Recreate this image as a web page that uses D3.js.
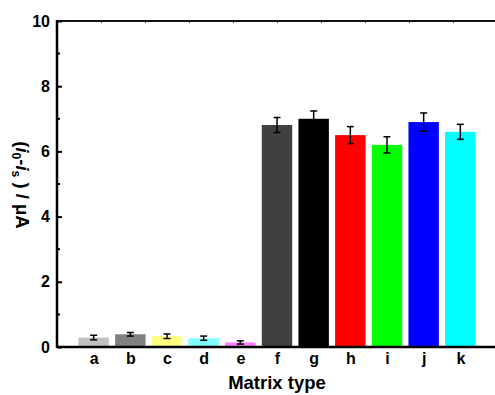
<!DOCTYPE html>
<html>
<head>
<meta charset="utf-8">
<script src="https://cdn.jsdelivr.net/npm/d3@7"></script>
<style>
  body { margin: 0; background: #fff; }
  svg { display: block; font-family: Arial, "Liberation Sans", sans-serif; }
</style>
</head>
<body>
<div id="chart"></div>
<script>
// chart data
var categories = ["a", "b", "c", "d", "e", "f", "g", "h", "i", "j", "k"];
var values = [0.29, 0.39, 0.33, 0.27, 0.14, 6.81, 7.0, 6.5, 6.2, 6.9, 6.6];
var errors = [0.07, 0.055, 0.07, 0.065, 0.05, 0.23, 0.24, 0.26, 0.25, 0.28, 0.23];
var colours = ["#c0c0c0", "#808080", "#ffff80", "#80ffff", "#ff80ff",
  "#404040", "#000000", "#ff0000", "#00ff00", "#0000ff", "#00ffff"];
var yTicks = [0, 2, 4, 6, 8, 10];

var width = 495, height = 395;
var mLeft = 57, mRight = 497, mTop = 21, mBottom = 347;

var svg = d3.select("#chart").append("svg")
  .attr("width", width)
  .attr("height", height);

var x = d3.scaleLinear().domain([0, categories.length + 1]).range([mLeft, mRight]);
var y = d3.scaleLinear().domain([0, 10]).range([mBottom, mTop]);
var xTop = d3.scaleLinear().domain([0, 10]).range([mLeft, mRight]);
var barHalf = 0.415;

// bars
svg.selectAll("rect.bar")
  .data(values)
  .enter()
  .append("rect")
  .attr("class", "bar")
  .attr("x", function (d, i) { return x(i + 1 - barHalf); })
  .attr("width", function (d, i) { return x(i + 1 + barHalf) - x(i + 1 - barHalf); })
  .attr("y", function (d) { return y(d); })
  .attr("height", function (d) { return y(0) - y(d); })
  .style("fill", function (d, i) { return colours[i]; });

// error bars
var err = svg.selectAll("g.err")
  .data(values)
  .enter()
  .append("g")
  .attr("class", "err")
  .attr("stroke", "#000")
  .attr("stroke-width", 1.5);
err.append("line")
  .attr("x1", function (d, i) { return x(i + 1); })
  .attr("x2", function (d, i) { return x(i + 1); })
  .attr("y1", function (d, i) { return y(d - errors[i]); })
  .attr("y2", function (d, i) { return y(d + errors[i]); });
[-1, 1].forEach(function (s) {
  err.append("line")
    .attr("x1", function (d, i) { return x(i + 1) - 3.5; })
    .attr("x2", function (d, i) { return x(i + 1) + 3.5; })
    .attr("y1", function (d, i) { return y(d + s * errors[i]); })
    .attr("y2", function (d, i) { return y(d + s * errors[i]); });
});

// left axis, ticks inward
var yAxis = d3.axisLeft(y).tickValues(yTicks).tickSize(-5).tickPadding(7).tickFormat(d3.format("d"));
var gy = svg.append("g")
  .attr("transform", "translate(" + mLeft + ",0)")
  .call(yAxis);
gy.select(".domain").remove();
gy.selectAll(".tick line").attr("stroke", "#000").attr("stroke-width", 2);
gy.selectAll(".tick text")
  .style("font-size", "16px")
  .style("font-weight", "bold")
  .attr("fill", "#000");
gy.selectAll("line.minor")
  .data([1, 3, 5, 7, 9])
  .enter()
  .append("line")
  .attr("class", "minor")
  .attr("x1", 0).attr("x2", 3)
  .attr("y1", function (d) { return y(d); })
  .attr("y2", function (d) { return y(d); })
  .attr("stroke", "#000").attr("stroke-width", 2);

// bottom axis with category labels
var xAxis = d3.axisBottom(x)
  .tickValues(d3.range(1, categories.length + 1))
  .tickSize(0).tickPadding(6)
  .tickFormat(function (d) { return categories[d - 1]; });
var gx = svg.append("g")
  .attr("transform", "translate(0," + mBottom + ")")
  .call(xAxis);
gx.select(".domain").remove();
gx.selectAll(".tick text")
  .style("font-size", "16px")
  .style("font-weight", "bold")
  .attr("fill", "#000");

// top axis, tiny inward ticks
var gt = svg.append("g")
  .attr("transform", "translate(0," + mTop + ")")
  .call(d3.axisTop(xTop).ticks(10).tickSize(-2).tickFormat(""));
gt.select(".domain").remove();
gt.selectAll(".tick line").attr("stroke", "#333").attr("stroke-width", 1);

// frame lines
svg.append("line").attr("x1", mLeft).attr("x2", width).attr("y1", mTop).attr("y2", mTop)
  .attr("stroke", "#111").attr("stroke-width", 2);
svg.append("line").attr("x1", mLeft).attr("x2", width).attr("y1", mBottom).attr("y2", mBottom)
  .attr("stroke", "#000").attr("stroke-width", 2.5);
svg.append("line").attr("x1", mLeft).attr("x2", mLeft).attr("y1", mTop - 1).attr("y2", mBottom + 1)
  .attr("stroke", "#000").attr("stroke-width", 2.5);

// axis titles
svg.append("text")
  .attr("x", 277)
  .attr("y", 389)
  .attr("text-anchor", "middle")
  .style("font-size", "18.5px")
  .style("font-weight", "bold")
  .text("Matrix type");

var yt = svg.append("text")
  .attr("transform", "translate(16,185) rotate(90)")
  .attr("text-anchor", "middle")
  .style("font-size", "18.5px")
  .style("font-weight", "bold");
yt.append("tspan").text("(");
yt.append("tspan").style("font-style", "italic").text("i");
yt.append("tspan").attr("dy", 4).style("font-size", "12px").text("0");
yt.append("tspan").attr("dy", -4).text("-");
yt.append("tspan").style("font-style", "italic").text("i");
yt.append("tspan").attr("dy", 4).style("font-size", "12px").text("s");
yt.append("tspan").attr("dy", -4).text(" ) / \u03bcA");
</script>
</body>
</html>
